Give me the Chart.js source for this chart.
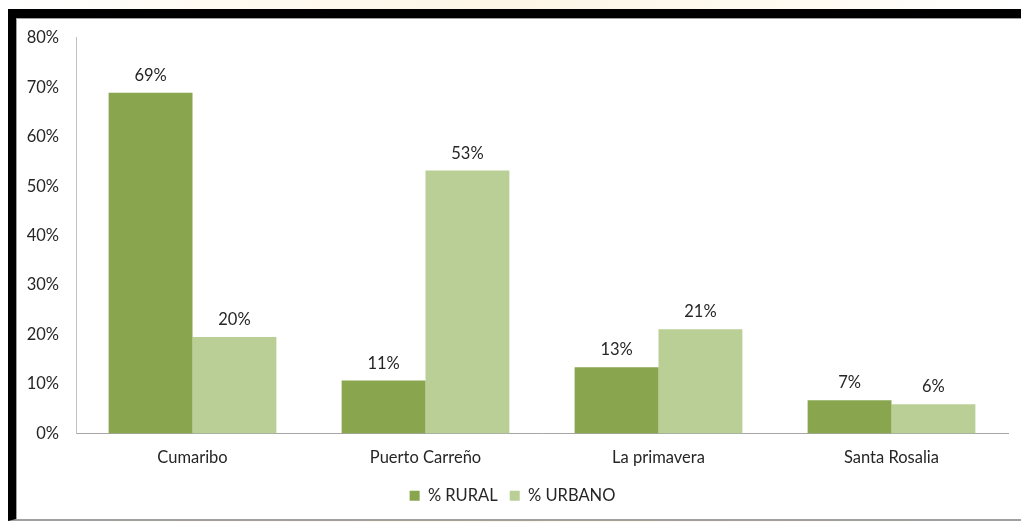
<!DOCTYPE html>
<html>
<head>
<meta charset="utf-8">
<script src="https://cdn.jsdelivr.net/npm/chart.js@4"></script>
<style>
  html, body { margin: 0; padding: 0; }
  body { width: 1021px; height: 522px; position: relative; overflow: hidden;
         background: linear-gradient(90deg, #ffffff 0%, #fffaf0 25%, #fdf6e6 50%, #fffaf0 75%, #ffffff 100%); }
  #frame { position: absolute; left: 8px; top: 9px; width: 1013px; height: 512px;
           border-top: 9px solid #000; border-left: 8px solid #000; border-bottom: 2px solid #a0a0a0;
           box-shadow: inset 1px 1px 0 #a0a0a0;
           background: #fff; box-sizing: border-box; }
  #wrap { position: absolute; left: 17px; top: 19px; width: 1004px; height: 500px; }
</style>
</head>
<body>
<div id="frame"></div>
<div id="wrap"><canvas id="myChart" width="1004" height="500"></canvas></div>
<script>
  const categories = ['Cumaribo', 'Puerto Carreño', 'La primavera', 'Santa Rosalia']
  const rural = [68.9, 10.7, 13.4, 6.7]
  const urbano = [19.5, 53.2, 21.1, 5.9]
  const yTicks = [0, 10, 20, 30, 40, 50, 60, 70, 80]

  const FONT = 'Lato, "Open Sans", sans-serif'
  const SIZE = 16.5

  // etiquetas de valor encima de cada barra
  const valueLabels = {
    id: 'valueLabels',
    afterDatasetsDraw(chart) {
      const c = chart.ctx
      c.save()
      c.font = SIZE + 'px ' + FONT
      c.fillStyle = '#262626'
      c.textAlign = 'center'
      c.textBaseline = 'bottom'
      chart.data.datasets.forEach((ds, i) => {
        chart.getDatasetMeta(i).data.forEach((bar, j) => {
          c.fillText(Math.round(ds.data[j]) + '%', bar.x, bar.y - 9)
        })
      })
      c.restore()
    }
  }

  new Chart(document.getElementById('myChart'), {
    type: 'bar',
    data: {
      labels: categories,
      datasets: [
        { label: '% RURAL', data: rural, backgroundColor: '#89a54e' },
        { label: '% URBANO', data: urbano, backgroundColor: '#b9cf96' }
      ]
    },
    options: {
      responsive: false,
      animation: false,
      devicePixelRatio: 1,
      layout: { padding: { left: 0, right: 13, top: 12, bottom: 5 } },
      datasets: { bar: { categoryPercentage: 0.72, barPercentage: 1 } },
      plugins: {
        legend: {
          position: 'bottom',
          labels: {
            color: '#262626',
            font: { family: FONT, size: SIZE },
            boxWidth: 10,
            boxHeight: 10,
            padding: 12
          }
        },
        tooltip: { enabled: false }
      },
      scales: {
        x: {
          clip: false,
          grid: { display: false },
          border: { color: '#a6a6a6' },
          ticks: { color: '#262626', font: { family: FONT, size: SIZE }, padding: 6 },
          afterFit: (s) => { s.height = 42 }
        },
        y: {
          min: 0,
          max: 80,
          afterBuildTicks: (s) => { s.ticks = yTicks.map(v => ({ value: v })) },
          grid: { display: false },
          border: { color: '#c0c0c0' },
          ticks: {
            color: '#262626',
            font: { family: FONT, size: SIZE },
            padding: 9,
            callback: (v) => v + '%'
          },
          afterFit: (s) => { s.width = 59 }
        }
      }
    },
    plugins: [valueLabels]
  })
</script>
</body>
</html>
